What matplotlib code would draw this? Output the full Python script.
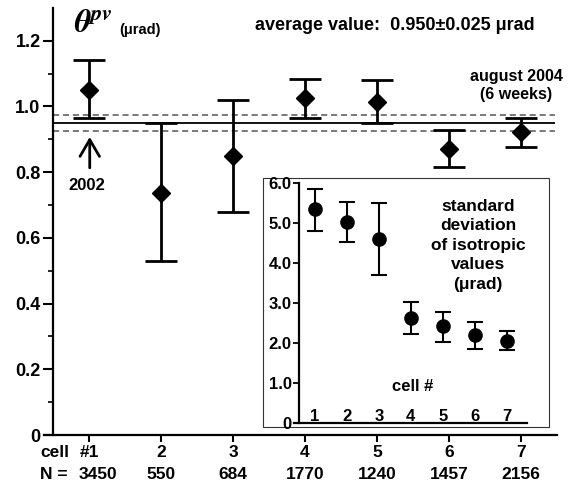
import matplotlib.pyplot as plt
from matplotlib.patches import Rectangle

plt.rcParams['font.family'] = ['Liberation Sans', 'DejaVu Sans']
plt.rcParams['font.weight'] = 'bold'
plt.rcParams['mathtext.fontset'] = 'stix'

# main panel: theta_pv per cell
cells = [1, 2, 3, 4, 5, 6, 7]
cell_labels = ["#1", "2", "3", "4", "5", "6", "7"]
n_values = ["3450", "550", "684", "1770", "1240", "1457", "2156"]
theta = [1.050, 0.737, 0.849, 1.025, 1.014, 0.870, 0.921]
theta_hi = [1.140, 0.949, 1.019, 1.083, 1.080, 0.928, 0.964]
theta_lo = [0.964, 0.530, 0.678, 0.966, 0.949, 0.816, 0.877]
avg, avg_err = 0.950, 0.025

# inset: standard deviation of isotropic values
sd = [5.35, 5.04, 4.60, 2.64, 2.43, 2.21, 2.07]
sd_hi = [5.85, 5.53, 5.50, 3.03, 2.79, 2.54, 2.31]
sd_lo = [4.82, 4.54, 3.70, 2.24, 2.04, 1.85, 1.83]

fig = plt.figure(figsize=(5.87, 4.86), dpi=100)
ax = fig.add_axes([0.0756, 0.1049, 0.8733, 0.879])

err = [[v - l for v, l in zip(theta, theta_lo)], [h - v for v, h in zip(theta, theta_hi)]]
ax.errorbar(cells, theta, yerr=err, fmt='D', color='black', ms=9, lw=2,
            capsize=11.5, capthick=2, zorder=3)

ax.hlines(avg, 0.5, 7.47, color='black', lw=1.3)
ax.hlines([avg - avg_err, avg + avg_err], 0.5, 7.47, color='#555555', lw=1.1,
          linestyles=(0, (4, 2.5)))

ax.set_xlim(0.38, 7.5)
ax.set_ylim(0, 1.30)
ax.spines['top'].set_visible(False)
ax.spines['right'].set_visible(False)
ax.spines['left'].set_position(('data', 0.5))
for s in ['left', 'bottom']:
    ax.spines[s].set_linewidth(1.6)

ax.set_yticks([0, 0.2, 0.4, 0.6, 0.8, 1.0, 1.2])
ax.set_yticklabels(["0", "0.2", "0.4", "0.6", "0.8", "1.0", "1.2"])
ax.set_yticks([0.1, 0.3, 0.5, 0.7, 0.9, 1.1], minor=True)
ax.tick_params(axis='y', which='major', length=7, width=1.5, pad=2, labelsize=13)
ax.tick_params(axis='y', which='minor', length=3.5, width=1.2)
ax.set_xticks(cells)
ax.set_xticklabels([])
ax.tick_params(axis='x', length=5, width=1.5)

tr = ax.get_xaxis_transform()
for c, lab, n in zip(cells, cell_labels, n_values):
    ax.text(c, -0.042, lab, transform=tr, ha='center', va='center', fontsize=12.5)
    ax.text(c + (0.12 if c == 1 else 0), -0.093, n, transform=tr, ha='center',
            va='center', fontsize=12.5)
ax.text(0.32, -0.042, "cell", transform=tr, ha='left', va='center', fontsize=12.5)
ax.text(0.32, -0.093, "N =", transform=tr, ha='left', va='center', fontsize=12.5)

fig.text(74 / 587, 1 - 24 / 486, r'$\boldsymbol{\theta}^{pv}$', fontsize=23,
         va='center', ha='left')
fig.text(119 / 587, 1 - 30 / 486, "(μrad)", fontsize=10.5, va='center', ha='left')
fig.text(395 / 587, 1 - 25 / 486, "average value:  0.950±0.025 μrad", fontsize=13,
         ha='center', va='center')
fig.text(516 / 587, 1 - 85 / 486, "august 2004\n(6 weeks)", fontsize=11.5,
         ha='center', va='center', linespacing=1.25)

ax.annotate("", xy=(1.01, 0.907), xytext=(1.01, 0.813),
            arrowprops=dict(arrowstyle='->, head_length=0.6, head_width=0.35',
                            lw=2, color='black', mutation_scale=20,
                            shrinkA=0, shrinkB=0))
ax.text(0.97, 0.76, "2002", ha='center', va='center', fontsize=12)

# inset frame and axes
fig.patches.append(Rectangle((0.448, 0.1214), 0.487, 0.5123, transform=fig.transFigure,
                             facecolor='white', edgecolor='#333333', lw=0.8, zorder=1))
ins = fig.add_axes([0.5009, 0.129, 0.397, 0.4938], zorder=2)
ins.patch.set_alpha(0)
err2 = [[v - l for v, l in zip(sd, sd_lo)], [h - v for v, h in zip(sd, sd_hi)]]
ins.errorbar(cells, sd, yerr=err2, fmt='o', color='black', ms=9.5, lw=1.5,
             capsize=6, capthick=1.5)
ins.set_xlim(0.35, 7.63)
ins.set_ylim(0, 6)
ins.spines['top'].set_visible(False)
ins.spines['right'].set_visible(False)
ins.spines['left'].set_position(('data', 0.51))
for s in ['left', 'bottom']:
    ins.spines[s].set_linewidth(1.6)
ins.set_yticks([0, 1, 2, 3, 4, 5, 6])
ins.set_yticklabels(["0", "1.0", "2.0", "3.0", "4.0", "5.0", "6.0"])
ins.tick_params(axis='y', length=4, width=1.3, pad=1.5, labelsize=12)
ins.set_xticks([])
for c in cells:
    ins.text(c, 0.17, str(c), ha='center', va='center', fontsize=12)
ins.text(4.05, 0.93, "cell #", ha='center', va='center', fontsize=12)
ins.text(6.1, 4.45, "standard\ndeviation\nof isotropic\nvalues\n(μrad)", ha='center',
         va='center', fontsize=12.5, linespacing=1.38)

fig.savefig("out.png", dpi=100)
